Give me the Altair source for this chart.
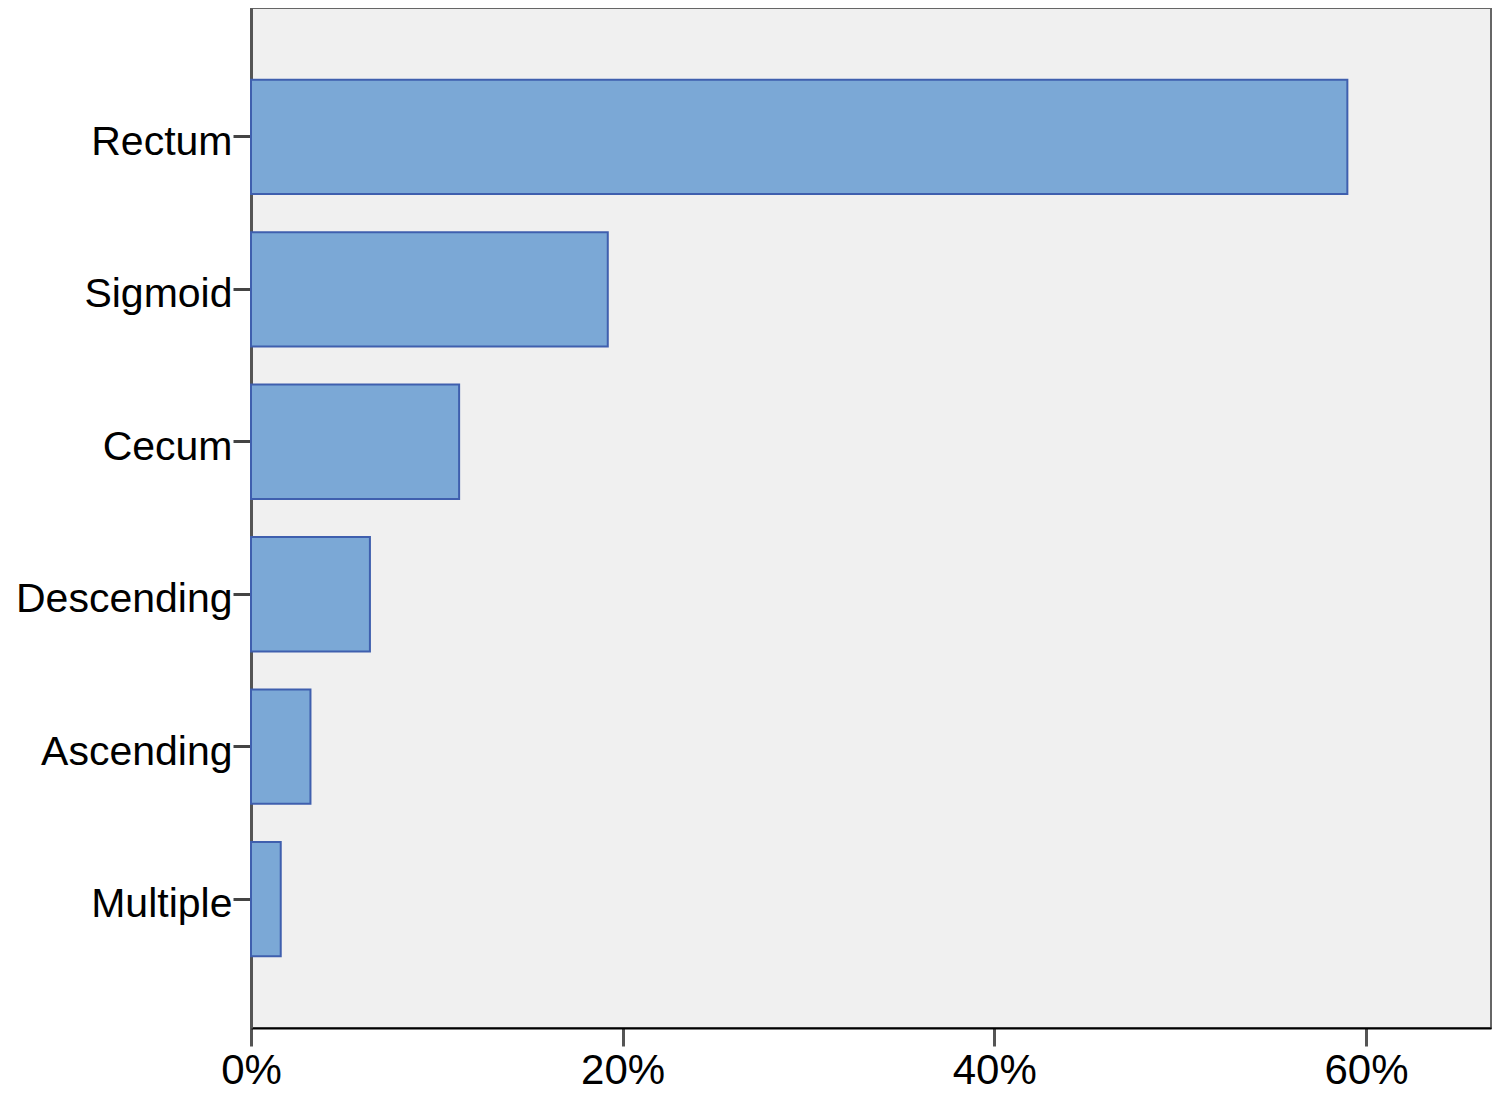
import altair as alt
import pandas as pd

categories = ["Rectum", "Sigmoid", "Cecum", "Descending", "Ascending", "Multiple"]
percents = [59.0, 19.2, 11.2, 6.4, 3.2, 1.6]
x_ticks = [0, 20, 40, 60]

df = pd.DataFrame({"site": categories, "pct": percents})

font = "Liberation Sans"

chart = alt.Chart(df).mark_bar(
    color="#7BA8D6", stroke="#3F5FAE", strokeWidth=2
).encode(
    x=alt.X("pct:Q", scale=alt.Scale(domain=[0, 66.73], nice=False, zero=True),
            axis=alt.Axis(values=x_ticks, labelExpr="datum.value + '%'", title=None,
                          grid=False, domainColor="#000000", domainWidth=2,
                          tickColor="#555555", tickWidth=3, tickSize=18,
                          labelFontSize=42, labelFont=font, labelColor="#000000",
                          labelPadding=4, labelFlush=False)),
    y=alt.Y("site:N", sort=categories,
            scale=alt.Scale(paddingInner=0.25, paddingOuter=0.47),
            axis=alt.Axis(title=None, domainColor="#555555", domainWidth=3,
                          tickColor="#444444", tickWidth=3, tickSize=18,
                          labelFontSize=41, labelFont=font, labelColor="#000000",
                          labelPadding=1, labelLimit=0, labelOffset=6)),
).properties(
    width=1240, height=1020,
    autosize=alt.AutoSizeParams(type="none"),
    padding={"left": 243, "top": 0, "right": 1, "bottom": 70},
).configure_view(
    fill="#F0F0F0", stroke="#666666", strokeWidth=2
)

chart.save("out.html", embed_options={"renderer": "svg", "actions": False})
